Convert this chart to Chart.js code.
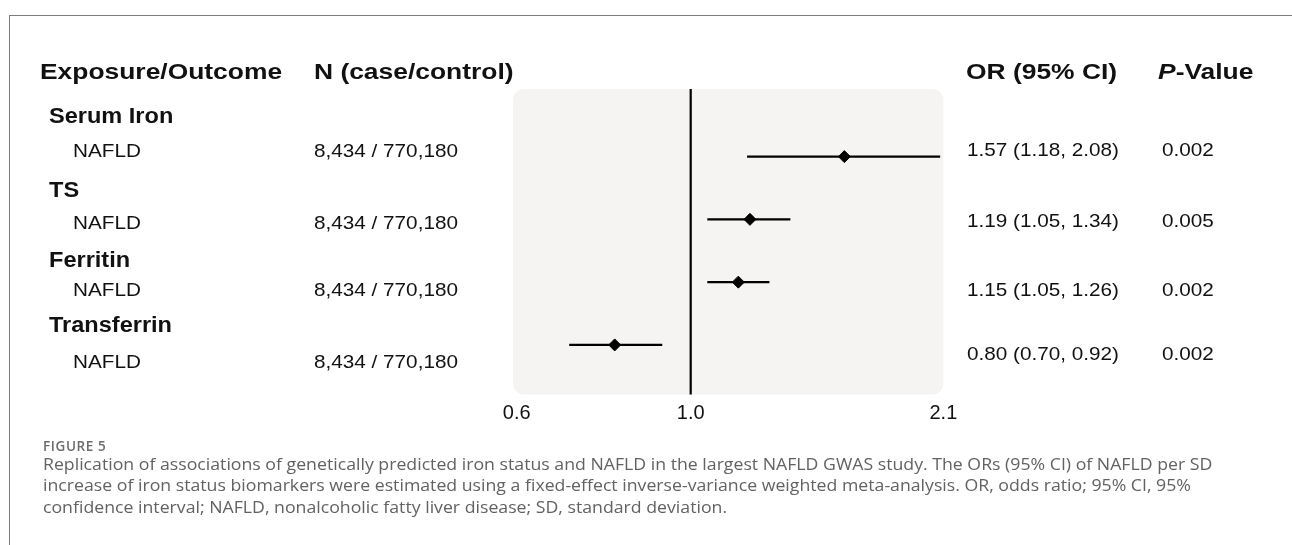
<!DOCTYPE html>
<html>
<head>
<meta charset="utf-8">
<script src="https://cdn.jsdelivr.net/npm/chart.js@4.4.1/dist/chart.umd.min.js"></script>
<style>
  html, body { margin: 0; padding: 0; background: #fff; }
  #page { position: relative; width: 1292px; height: 545px; overflow: hidden; }
  #frame { position: absolute; left: 9px; top: 15px; width: 2000px; height: 2000px;
           border-left: 1px solid #7d7d7d; border-top: 1px solid #7d7d7d; }
  canvas { position: absolute; left: 0; top: 0; }
  .t { position: absolute; white-space: nowrap; line-height: 1; color: #111;
       font-family: "Liberation Sans", Arial, sans-serif; transform-origin: 0 0; }
  .head { font-size: 22px; font-weight: bold; transform: scaleX(1.2); }
  .grp { font-size: 22px; font-weight: bold; transform: scaleX(1.07); }
  .reg { font-size: 19px; transform: scaleX(1.09); }
  .fig { position: absolute; left: 43px; top: 437px; font-family: "Open Sans", sans-serif;
         font-size: 13.5px; font-weight: 600; letter-spacing: 0.6px; color: #6b6b6b; }
  .cap { position: absolute; left: 43px; top: 454px; font-family: "Open Sans", sans-serif;
         font-size: 15.8px; line-height: 21.3px; color: #626262; white-space: nowrap;
         transform: scaleX(1.12); transform-origin: 0 0; }
</style>
</head>
<body>
<div id="page">
  <div id="frame"></div>
  <canvas id="forest" width="1292" height="545"></canvas>
  <div id="table"></div>
  <div class="fig">FIGURE 5</div>
  <div class="cap">Replication of associations of genetically predicted iron status and NAFLD in the largest NAFLD GWAS study. The ORs (95% CI) of NAFLD per SD<br>increase of iron status biomarkers were estimated using a fixed-effect inverse-variance weighted meta-analysis. OR, odds ratio; 95% CI, 95%<br>confidence interval; NAFLD, nonalcoholic fatty liver disease; SD, standard deviation.</div>
</div>
<script>
const headers = ['Exposure/Outcome', 'N (case/control)', 'OR (95% CI)', '-Value'];
const exposures = ['Serum Iron', 'TS', 'Ferritin', 'Transferrin'];
const outcomes = ['NAFLD', 'NAFLD', 'NAFLD', 'NAFLD'];
const caseControl = ['8,434 / 770,180', '8,434 / 770,180', '8,434 / 770,180', '8,434 / 770,180'];
const orValues = [1.57, 1.19, 1.15, 0.80];
const ciLower = [1.18, 1.05, 1.05, 0.70];
const ciUpper = [2.08, 1.34, 1.26, 0.92];
const pValues = ['0.002', '0.005', '0.002', '0.002'];
const xTicks = [0.6, 1.0, 2.1];
const refValue = 1.0;

// text rows of the table (top of each line box, px)
const groupTop = [104.6, 178.6, 248.8, 314.2];
const leftRowTop = [140.7, 213.2, 279.9, 351.5];
const rightRowTop = [139.6, 210.9, 279.9, 343.9];

const table = document.getElementById('table');
function addText(cls, x, y, html) {
    const d = document.createElement('div');
    d.className = 't ' + cls;
    d.style.left = x + 'px';
    d.style.top = y + 'px';
    d.innerHTML = html;
    table.appendChild(d);
}
addText('head', 40, 61, headers[0]);
addText('head', 314, 61, headers[1]);
addText('head', 966, 61, headers[2]);
addText('head', 1157.5, 61, '<i>P</i>' + headers[3]);
exposures.forEach((name, i) => {
    addText('grp', 48.5, groupTop[i], name);
    addText('reg', 73, leftRowTop[i], outcomes[i]);
    addText('reg', 314, leftRowTop[i], caseControl[i]);
    addText('reg', 966.5, rightRowTop[i],
        `${orValues[i].toFixed(2)} (${ciLower[i].toFixed(2)}, ${ciUpper[i].toFixed(2)})`);
    addText('reg', 1161.5, rightRowTop[i], pValues[i]);
});

// grey panel behind the plot + the line of no effect
const panelPlugin = {
    id: 'panel',
    beforeDatasetsDraw(chart) {
        const { ctx, chartArea: a, scales } = chart;
        ctx.save();
        ctx.fillStyle = '#f5f4f2';
        ctx.beginPath();
        ctx.roundRect(a.left, a.top, a.right - a.left, a.bottom - a.top, 11);
        ctx.fill();
        const x = scales.x.getPixelForValue(refValue);
        ctx.strokeStyle = '#000';
        ctx.lineWidth = 2.2;
        ctx.beginPath();
        ctx.moveTo(x, a.top);
        ctx.lineTo(x, a.bottom);
        ctx.stroke();
        ctx.restore();
    }
};

const ciSets = exposures.map((name, i) => ({
    label: name + ' CI',
    data: [{ x: ciLower[i], y: i }, { x: ciUpper[i], y: i }],
    showLine: true,
    borderColor: '#000',
    borderWidth: 2.2,
    pointRadius: 0
}));

const ctx = document.getElementById('forest').getContext('2d');
const forest = new Chart(ctx, {
    type: 'scatter',
    data: {
        datasets: [...ciSets, {
            label: 'OR',
            data: orValues.map((v, i) => ({ x: v, y: i })),
            pointStyle: 'rectRot',
            pointRadius: 6,
            backgroundColor: '#000',
            borderColor: '#000',
            borderWidth: 1
        }]
    },
    options: {
        responsive: false,
        animation: false,
        layout: { padding: { left: 513, right: 348.6, top: 89, bottom: 112.5 } },
        plugins: { legend: { display: false }, tooltip: { enabled: false } },
        scales: {
            x: {
                type: 'logarithmic',
                min: 0.5935,
                max: 2.1,
                grid: { display: false, drawTicks: false },
                border: { display: false },
                afterBuildTicks: (axis) => { axis.ticks = xTicks.map(v => ({ value: v })); },
                ticks: {
                    padding: 7,
                    autoSkip: false,
                    maxRotation: 0,
                    color: '#111',
                    font: { family: 'Liberation Sans', size: 20 },
                    callback: (v) => Number(v).toFixed(1)
                }
            },
            y: {
                type: 'linear',
                reverse: true,
                min: -1.077,
                max: 3.79,
                display: false
            }
        }
    },
    plugins: [panelPlugin]
});
</script>
</body>
</html>
